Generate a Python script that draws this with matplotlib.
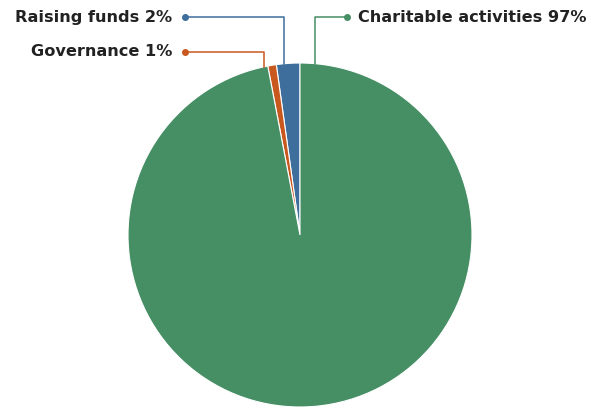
import matplotlib.pyplot as plt

labels = ['Raising funds', 'Governance', 'Charitable activities']
values = [2.2, 0.8, 97.0]
pct_labels = ['2%', '1%', '97%']
colors = ['#3d6e9c', '#c9581f', '#468f65']

fig = plt.figure(figsize=(6.01, 4.07), dpi=100)
ax = fig.add_axes([128 / 601, 0, 344 / 601, 344 / 407])
ax.pie(values, colors=colors, startangle=90, counterclock=True,
       wedgeprops=dict(edgecolor='white', linewidth=0.8))
ax.set_xlim(-1, 1)
ax.set_ylim(-1, 1)
ax.set_aspect('equal')

# leader lines: (dot, corner, end on the pie edge) in data units
leaders = [
    ((-0.669, 1.267), (-0.093, 1.267), (-0.093, 0.996)),
    ((-0.669, 1.064), (-0.209, 1.064), (-0.209, 0.976)),
    ((0.273, 1.267), (0.087, 1.267), (0.087, 0.996)),
]
for (dot, corner, end), lab, pct, col in zip(leaders, labels, pct_labels, colors):
    ax.plot([dot[0], corner[0], end[0]], [dot[1], corner[1], end[1]],
            color=col, lw=1.1, clip_on=False)
    ax.plot(dot[0], dot[1], 'o', color=col, ms=4, clip_on=False)
    if dot[0] < 0:
        ax.text(dot[0] - 0.075, dot[1], f'{lab} {pct}', ha='right', va='center',
                fontsize=11.6, fontweight='bold', color='#222222', family='DejaVu Sans')
    else:
        ax.text(dot[0] + 0.065, dot[1], f'{lab} {pct}', ha='left', va='center',
                fontsize=11.6, fontweight='bold', color='#222222', family='DejaVu Sans')

fig.savefig('out.png', dpi=100, facecolor='white')
